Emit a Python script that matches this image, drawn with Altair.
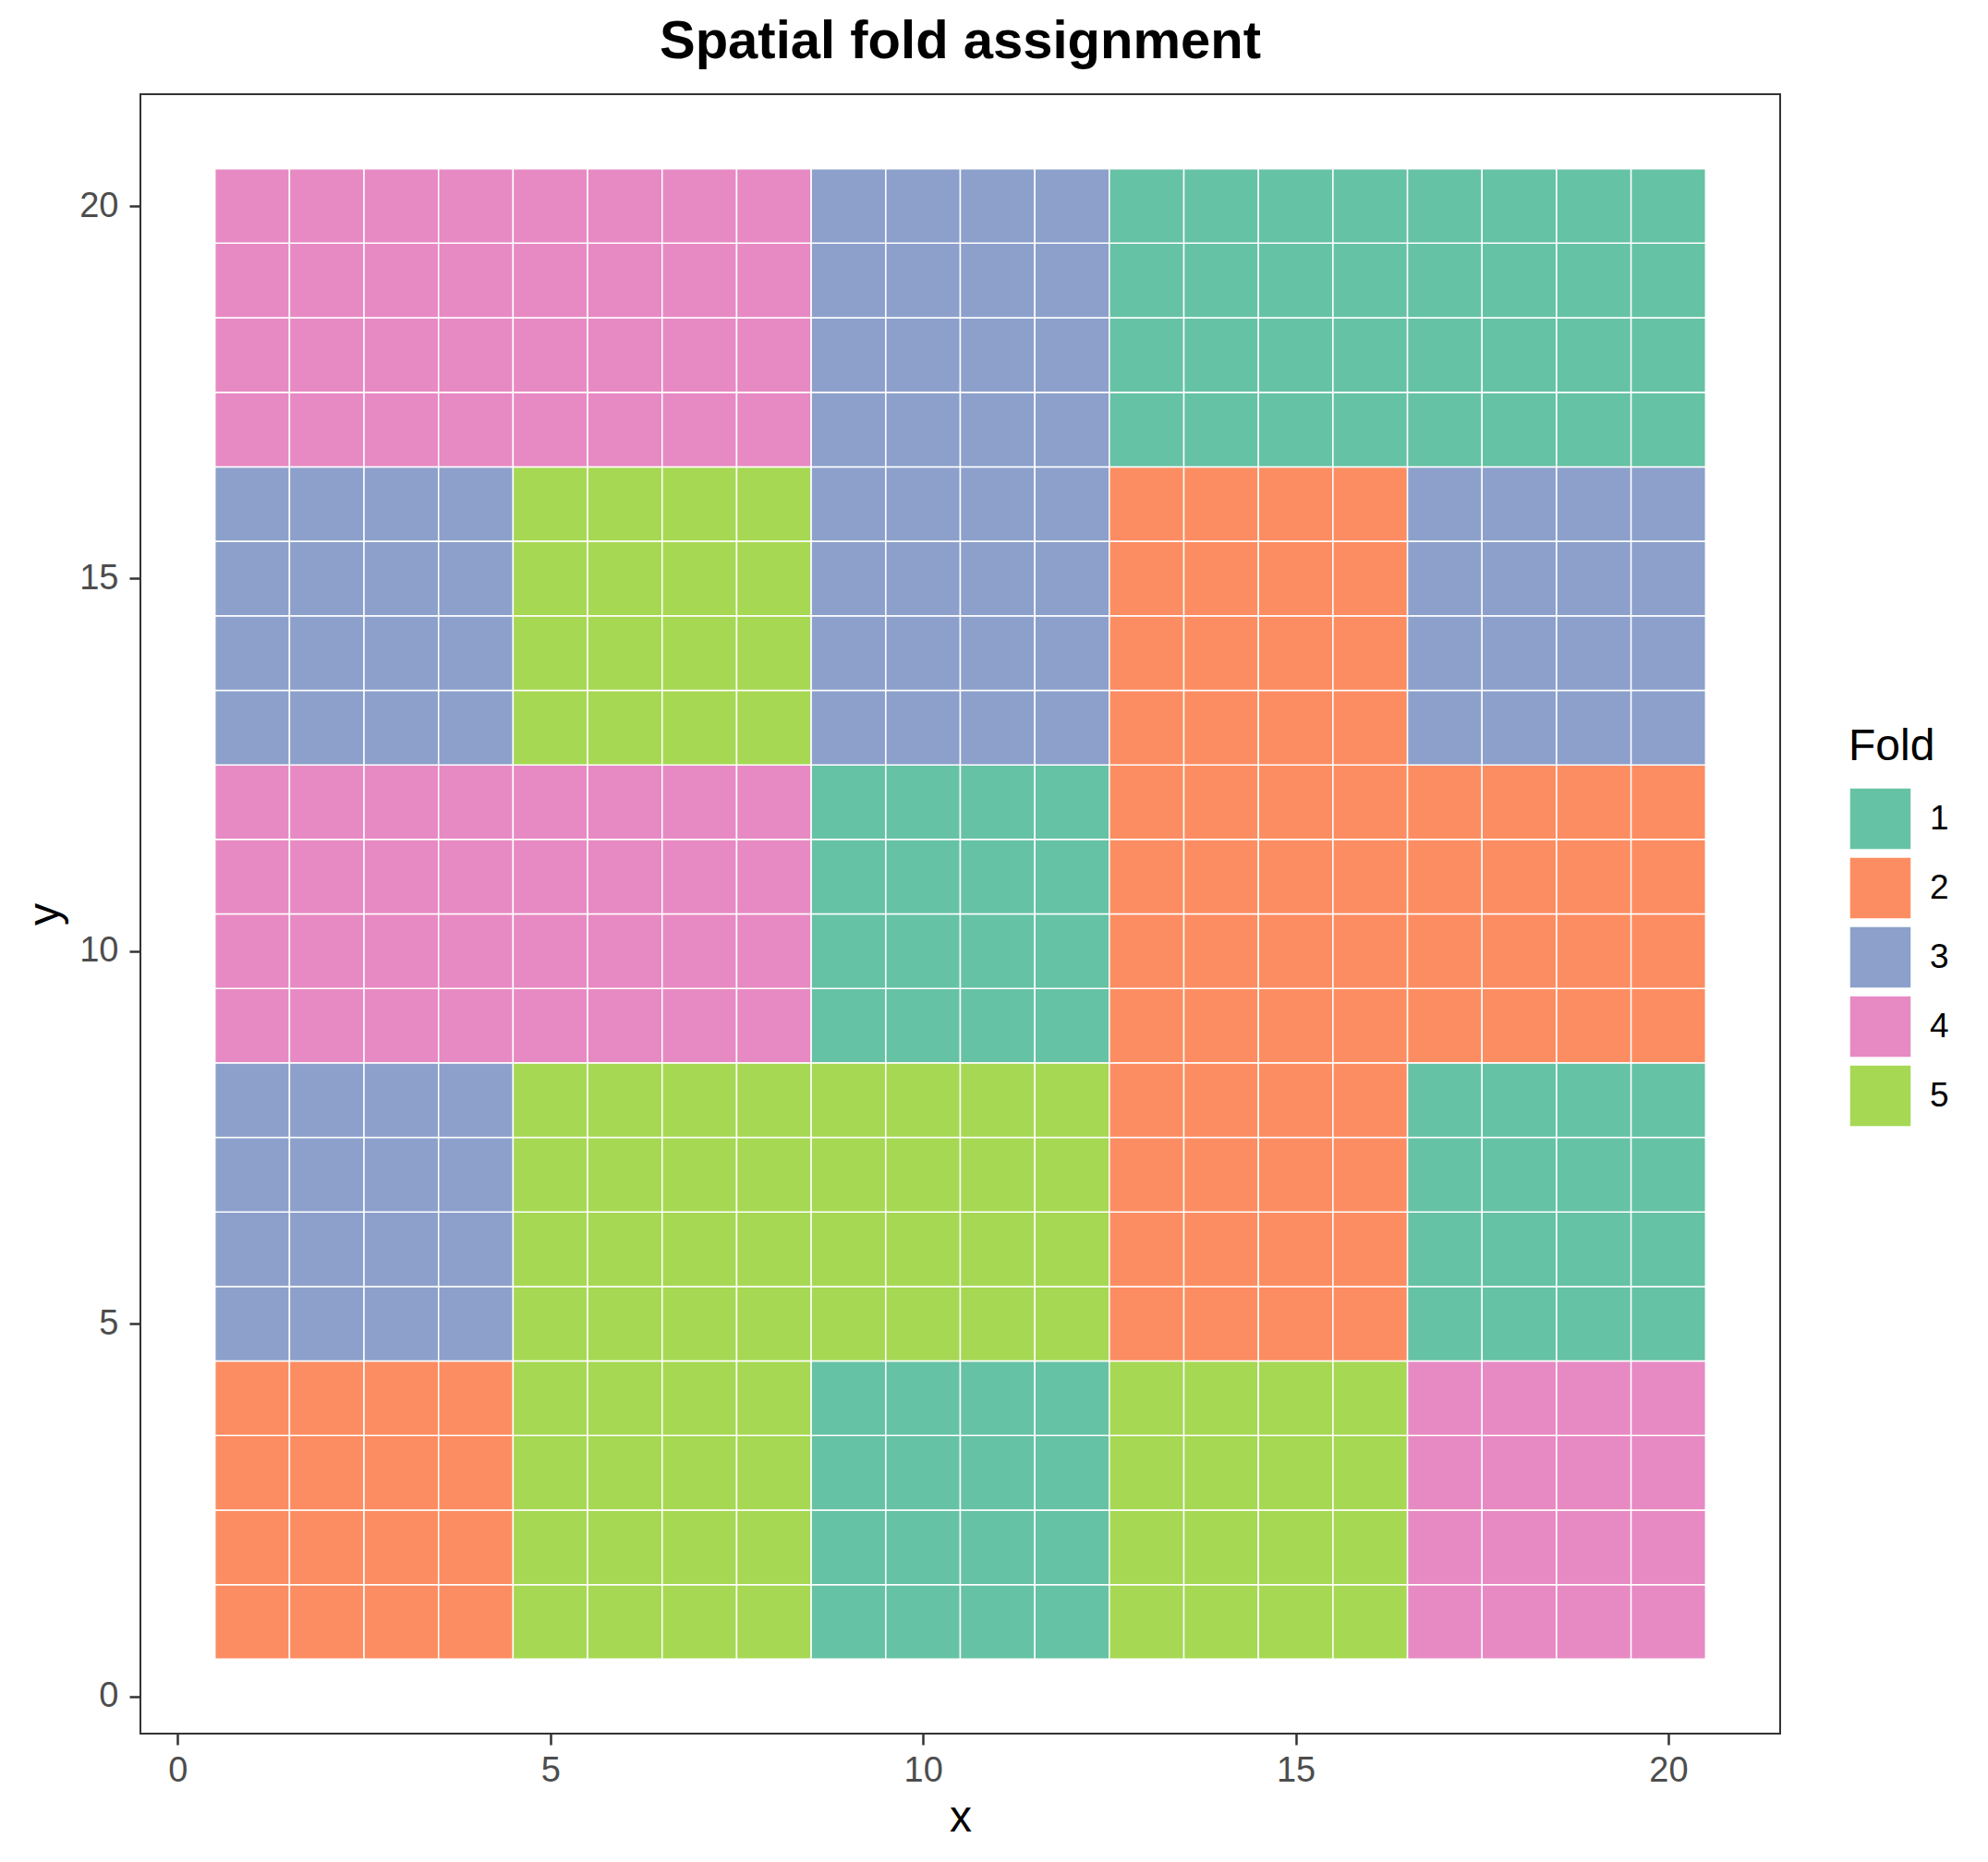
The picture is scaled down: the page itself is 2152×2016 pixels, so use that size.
import altair as alt
import pandas as pd

fold_labels = ["1", "2", "3", "4", "5"]
fold_colors = ["#66C2A5", "#FC8D62", "#8DA0CB", "#E78AC3", "#A6D854"]
axis_ticks = [0, 5, 10, 15, 20]

# fold of each 4x4 block of cells, columns x 1-4, 5-8, 9-12, 13-16, 17-20
block_size = 4
folds_y17_20 = [4, 4, 3, 1, 1]
folds_y13_16 = [3, 5, 3, 2, 3]
folds_y9_12 = [4, 4, 1, 2, 2]
folds_y5_8 = [3, 5, 5, 2, 1]
folds_y1_4 = [2, 5, 1, 5, 4]
block_rows = [folds_y1_4, folds_y5_8, folds_y9_12, folds_y13_16, folds_y17_20]

rows = []
for by, block_row in enumerate(block_rows):
    for bx, fold in enumerate(block_row):
        for dy in range(block_size):
            for dx in range(block_size):
                rows.append({
                    "x": bx * block_size + dx + 1,
                    "y": by * block_size + dy + 1,
                    "fold": str(fold),
                })
df = pd.DataFrame(rows)

FONT = "Liberation Sans"
W = H = 1775

x_scale = alt.Scale(domain=[-0.5, 21.5], nice=False, zero=False)
y_scale = alt.Scale(domain=[-0.5, 21.5], nice=False, zero=False)

axis_common = dict(
    values=axis_ticks,
    grid=False,
    domain=False,
    ticks=True,
    tickColor="#333333",
    tickWidth=2.5,
    tickSize=12,
    labelFont=FONT,
    labelFontSize=38,
    labelColor="#4D4D4D",
    titleFont=FONT,
    titleFontSize=48,
    titleFontWeight="normal",
    titleColor="#000000",
    titleBaseline="alphabetic",
)

chart = (
    alt.Chart(df)
    .transform_calculate(
        x0="datum.x - 0.5", x1="datum.x + 0.5",
        y0="datum.y - 0.5", y1="datum.y + 0.5",
    )
    .mark_rect(stroke="white", strokeWidth=1.5)
    .encode(
        x=alt.X("x0:Q", scale=x_scale,
                axis=alt.Axis(title="x", labelBaseline="alphabetic", labelPadding=39,
                              titleY=105, **axis_common)),
        x2="x1:Q",
        y=alt.Y("y0:Q", scale=y_scale,
                axis=alt.Axis(title="y", labelPadding=12, titleX=-89, titleAngle=270,
                              **axis_common)),
        y2="y1:Q",
        color=alt.Color(
            "fold:N",
            scale=alt.Scale(domain=fold_labels, range=fold_colors),
            legend=alt.Legend(
                title="Fold",
                orient="none",
                legendX=1849,
                legendY=683,
                padding=0,
                titleFont=FONT,
                titleFontSize=48,
                titleFontWeight="normal",
                titleColor="#000000",
                titlePadding=19,
                labelFont=FONT,
                labelFontSize=37,
                labelColor="#000000",
                labelOffset=19,
                symbolType="square",
                symbolSize=4489,
                symbolStrokeColor="white",
                symbolStrokeWidth=1.5,
                symbolOpacity=1,
                rowPadding=2,
            ),
        ),
    )
    .properties(
        width=W,
        height=H,
        title=alt.TitleParams(
            "Spatial fold assignment",
            font=FONT,
            fontSize=58,
            fontWeight="bold",
            color="#000000",
            anchor="middle",
            frame="group",
            baseline="alphabetic",
            offset=36,
            dy=55,
        ),
        autosize=alt.AutoSizeParams(type="none"),
        padding={"left": 144, "top": 94, "right": 217, "bottom": 131},
    )
    .configure_view(stroke="#333333", strokeWidth=2)
)

chart.save("out.html", embed_options={"renderer": "svg", "actions": False})
